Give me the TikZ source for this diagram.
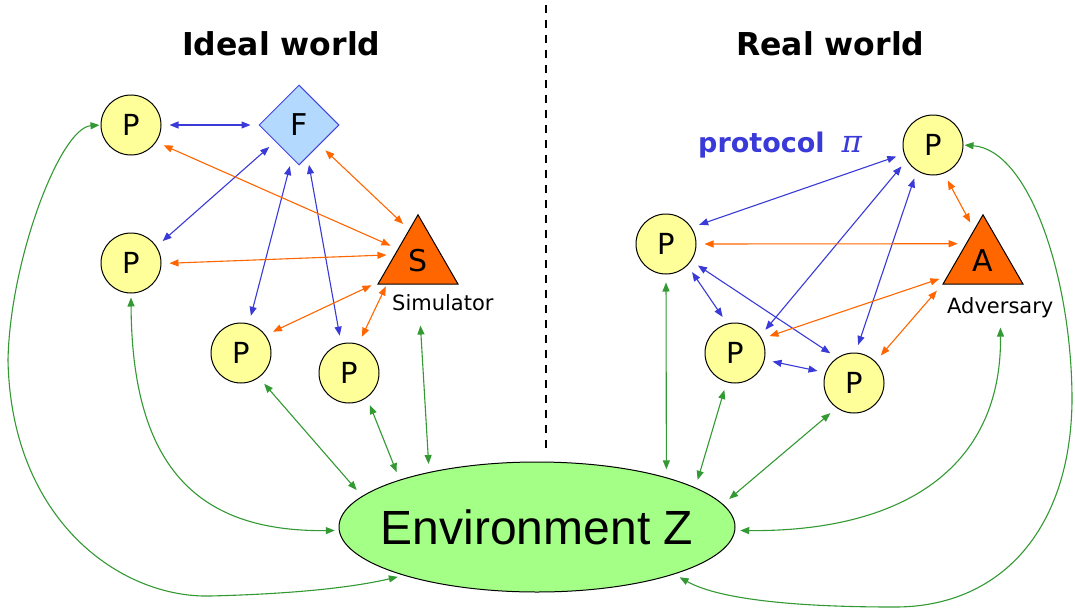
\documentclass[tikz,border=0pt]{standalone}
\usepackage{fontspec}
\setmainfont{DejaVu Sans}
\newfontfamily\envfont{Liberation Sans}
\newfontfamily\pifont{DejaVu Serif}
\usetikzlibrary{shapes.geometric,arrows.meta}
\definecolor{pblue}{HTML}{3A3AD8}
\definecolor{porange}{HTML}{FF6600}
\definecolor{pgreen}{HTML}{339933}
\definecolor{pyellow}{HTML}{FFFF99}
\definecolor{fblue}{HTML}{B3D9FF}
\definecolor{fborder}{HTML}{4444DD}
\definecolor{envgreen}{HTML}{A3FF85}
\begin{document}
\begin{tikzpicture}[x=1pt,y=-1pt,
  >={Triangle[length=9pt,width=7pt]},
  party/.style={circle,draw=black,fill=pyellow,line width=1pt,minimum size=60pt,inner sep=0pt,font=\fontsize{29}{29}\selectfont},
  func/.style={diamond,aspect=1,draw=fborder,fill=fblue,line width=1pt,minimum size=80pt,inner sep=0pt,font=\fontsize{30}{30}\selectfont},
  advbox/.style={regular polygon,regular polygon sides=3,draw=black,fill=porange,line width=1pt,minimum size=92.4pt,inner sep=0pt,font=\fontsize{30}{30}\selectfont},
  envbox/.style={ellipse,draw=black,fill=envgreen,line width=1pt,minimum width=396pt,minimum height=130pt,inner sep=0pt},
  envtext/.style={inner sep=0pt,font=\envfont\fontsize{48}{48}\selectfont},
  lnk/.style={line width=1.1pt,<->,shorten <=8pt,shorten >=8pt},
  bl/.style={lnk,draw=pblue},
  ol/.style={lnk,draw=porange},
  gl/.style={lnk,draw=pgreen},
  title/.style={anchor=base west,font=\fontsize{31.5}{31.5}\selectfont\bfseries,inner sep=0pt},
  lbl/.style={anchor=base west,font=\fontsize{21}{21}\selectfont,inner sep=0pt}
]
\fill[white] (0,0) rectangle (1075,610);
\useasboundingbox (0,0) rectangle (1075,610);

% titles and separator
\node[title] (tideal) at (182,56) {Ideal world};
\node[title] (treal) at (736,56) {Real world};
\coordinate (septop) at (546,5);
\coordinate (sepbot) at (546,452);
\draw[black,line width=1.6pt,dash pattern=on 8pt off 7pt] (septop) -- (sepbot);

% environment
\node[envbox] (Env) at (537,527) {};
\node[envtext] (EnvText) at (Env.center) {Environment Z};

% ideal world nodes
\node[party] (P1) at (131,125) {P};
\node[func]  (F)  at (299,125) {F};
\node[party] (P2) at (131,263) {P};
\node[advbox] (S) at (418,261) {S};
\node[lbl] (simlbl) at (392,310) {Simulator};
\node[party] (P3) at (241,353) {P};
\node[party] (P4) at (349,373) {P};

% real world nodes
\node[party] (PT) at (933,145) {P};
\node[party] (PL) at (666,244) {P};
\node[advbox] (A) at (983,261) {A};
\node[lbl] (advlbl) at (947,313) {Adversary};
\node[party] (PM) at (735,353) {P};
\node[party] (PR) at (854,383) {P};
\node[anchor=base west,inner sep=0pt,text=pblue,font=\fontsize{27}{27}\selectfont] (proto) at (698,152) {\textbf{protocol}\hspace{17pt}{\pifont\itshape\fontsize{31}{31}\selectfont π}};

% ideal: blue
\draw[bl] (P1.0) -- (F.180);
\draw[bl] (F.215) -- (P2.33);
\draw[bl] (F.258) -- (P3.75);
\draw[bl] (F.285) -- (P4.105);
% ideal: orange
\draw[ol] (P1.-34) -- (S.149);
\draw[ol] (F.-44) -- (S.106);
\draw[ol] (P2.-1) -- (S.165);
\draw[ol] (P3.36) -- (S.208);
\draw[ol,shorten >=2pt] (P4.72) -- (S.217);
% ideal: green
\draw[gl,shorten <=1pt,shorten >=6pt] (P1.180) .. controls (60,128) and (10,260) .. (8,360)
   .. controls (11,520) and (120,598) .. (210,596) .. controls (290,594) and (350,588) .. (Env.200);
\draw[gl,shorten <=4pt,shorten >=4pt] (P2.-90) .. controls (132,470) and (200,532) .. (Env.181);
\draw[gl] (P3.-54) -- (Env.170);
\draw[gl] (P4.-54) -- (Env.161);
\draw[gl,shorten <=41pt] (S.south) -- (Env.153);

% real: blue
\draw[bl] (PT.197) -- (PL.33);
\draw[bl] (PT.210) -- (PM.34);
\draw[bl] (PT.238) -- (PR.87);
\draw[bl] (PL.-45) -- (PM.105);
\draw[bl] (PL.-34) -- (PR.124);
\draw[bl] (PM.-13) -- (PR.160);
% real: orange
\draw[ol] (PT.-69) -- (A.106);
\draw[ol] (PL.0) -- (A.135);
\draw[ol] (PM.28) -- (A.203);
\draw[ol] (PR.45) -- (A.210);
% real: green
\draw[gl] (PL.-90) -- (Env.21);
\draw[gl] (PM.254) -- (Env.14);
\draw[gl] (PR.235.5) -- (Env.7);
\draw[gl,shorten <=10pt,shorten >=5pt] (advlbl.south) .. controls (1002,470) and (900,532) .. (Env.-1);
\draw[gl,shorten <=1pt,shorten >=6pt] (PT.0) .. controls (1030,150) and (1072,280) .. (1072,400)
   .. controls (1071,530) and (1000,608) .. (893,607) .. controls (800,607) and (720,600) .. (Env.-19.5);
\end{tikzpicture}
\end{document}
